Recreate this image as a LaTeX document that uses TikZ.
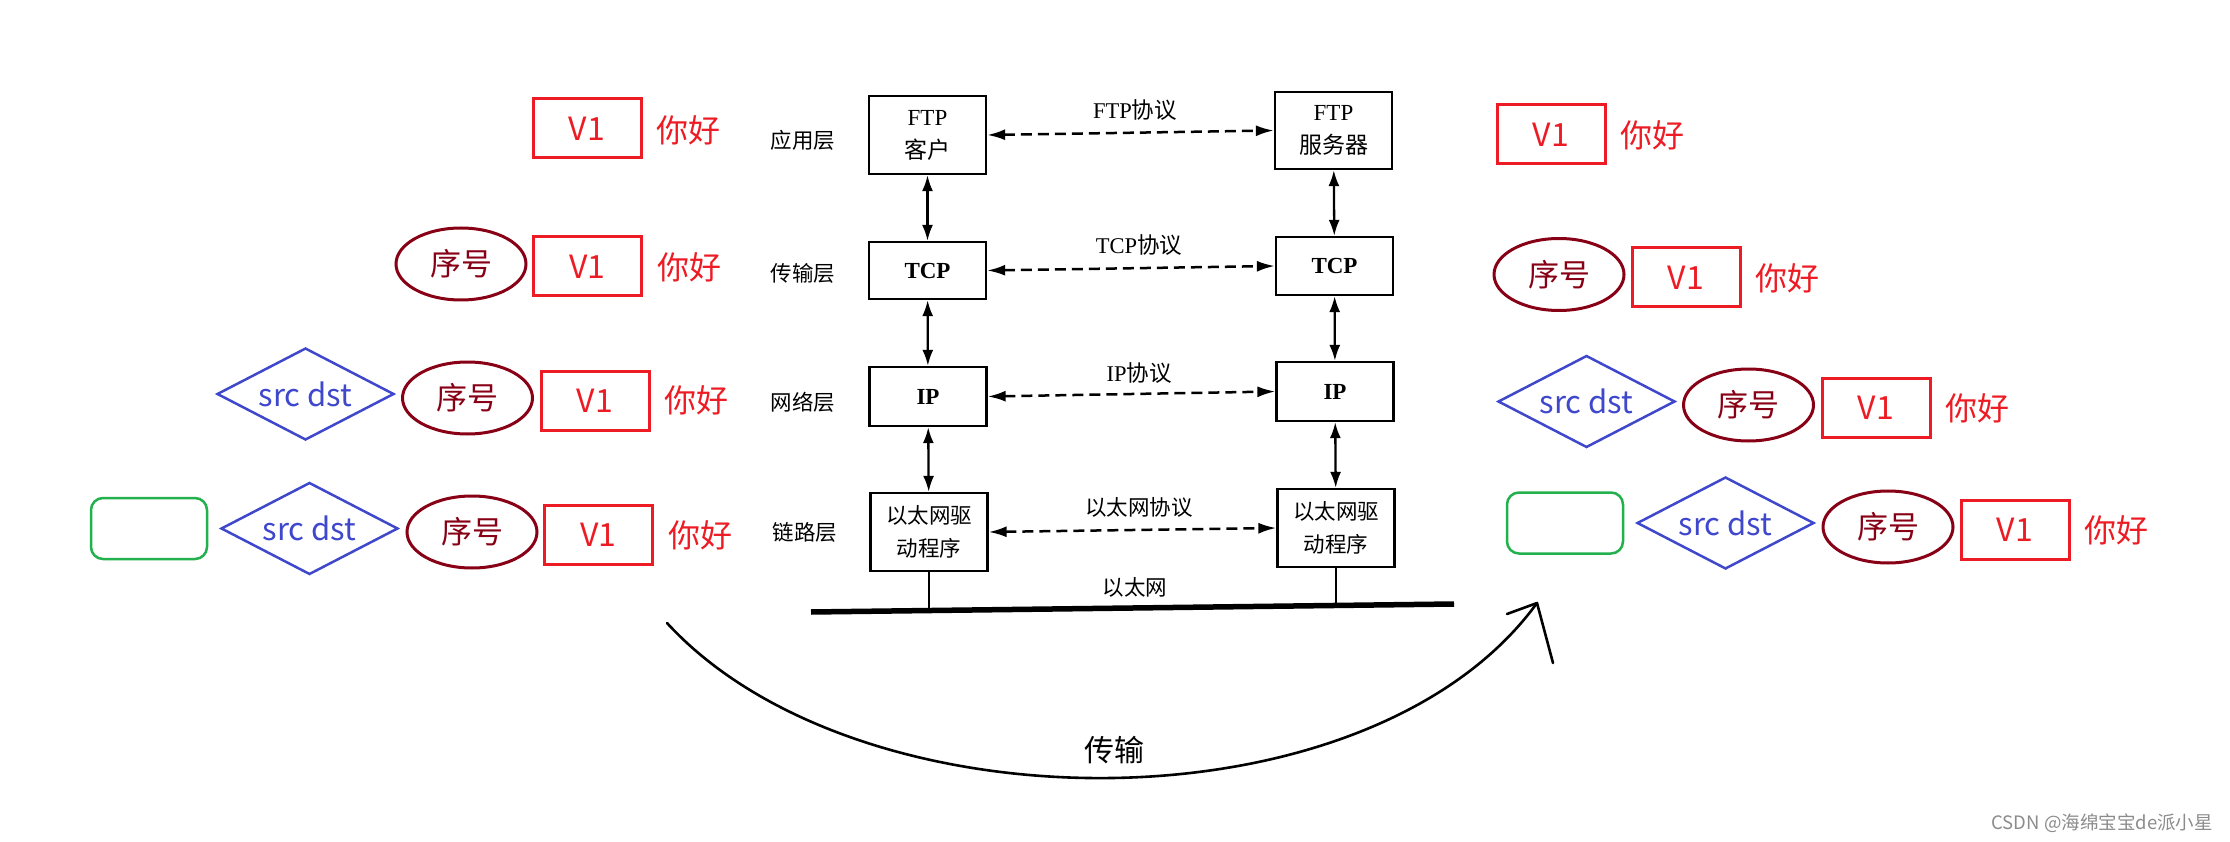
\documentclass[tikz,border=0pt]{standalone}
\usepackage{fontspec}
\setmainfont{Liberation Serif}
\newfontfamily\cjk{Noto Sans CJK SC}
\usetikzlibrary{shapes.geometric,arrows.meta}
\definecolor{pred}{HTML}{ED1C24}
\definecolor{pdark}{HTML}{880015}
\definecolor{pblue}{HTML}{3F48CC}
\definecolor{pgreen}{HTML}{22B14C}
\definecolor{wmgray}{HTML}{8C8C8C}
\tikzset{
 layerbox/.style={draw, line width=2.3pt, minimum width=117pt, inner sep=0pt, align=center, font=\fontsize{23}{33}\selectfont},
 layerlbl/.style={font=\cjk\fontsize{21.5}{24}\selectfont, inner sep=0pt},
 protolbl/.style={font=\fontsize{22.5}{24}\selectfont, inner sep=0pt},
 vlink/.style={line width=2.3pt, {Latex[length=16pt,width=11pt]}-{Latex[length=16pt,width=11pt]}},
 hlink/.style={line width=2.5pt, dash pattern=on 11pt off 6pt, {Latex[length=18pt,width=11pt]}-{Latex[length=18pt,width=11pt]}},
 v1box/.style={draw=pred, line width=3pt, minimum width=108pt, minimum height=59pt, inner sep=0pt, text=pred, font=\cjk\fontsize{32}{36}\selectfont},
 hello/.style={text=pred, font=\cjk\fontsize{32}{36}\selectfont, inner sep=0pt},
 seqell/.style={ellipse, draw=pdark, line width=3pt, minimum width=130pt, minimum height=72pt, inner sep=0pt, text=pdark, font=\cjk\fontsize{31}{36}\selectfont},
 addrdia/.style={diamond, aspect=2, draw=pblue, line width=2.5pt, minimum width=177pt, minimum height=92pt, inner sep=0pt, text=pblue, font=\cjk\fontsize{31}{36}\selectfont},
 framebox/.style={draw=pgreen, line width=2.5pt, rounded corners=12pt, minimum width=116pt, minimum height=61pt, inner sep=0pt},
 hand/.style={line width=2.6pt, line cap=round, line join=round},
}
\begin{document}
\begin{tikzpicture}[x=1pt,y=-1pt]
\fill[white] (0,0) rectangle (2230,842);
\useasboundingbox (0,0) rectangle (2230,842);

% ---------- layer labels ----------
\node[layerlbl] (l1) at (803,140) {应用层};
\node[layerlbl] (l2) at (803,273) {传输层};
\node[layerlbl] (l3) at (803,402) {网络层};
\node[layerlbl] (l4) at (805,532) {链路层};

% ---------- protocol stack boxes ----------
\node[layerbox, minimum height=78pt] (ftpc) at (927.5,135) {FTP\\{\cjk 客户}};
\node[layerbox, minimum height=57pt] (tcpc) at (927.5,270.5) {\bfseries TCP};
\node[layerbox, minimum height=59pt] (ipc) at (928,396.5) {\bfseries IP};
\node[layerbox, minimum height=78pt, font=\cjk\fontsize{21.5}{33}\selectfont] (ethc) at (929,532) {以太网驱\\动程序};

\node[layerbox, minimum height=77pt] (ftps) at (1333.5,130.5) {FTP\\{\cjk 服务器}};
\node[layerbox, minimum height=58pt] (tcps) at (1334.5,266) {\bfseries TCP};
\node[layerbox, minimum height=59pt] (ips) at (1335,391.5) {\bfseries IP};
\node[layerbox, minimum height=78pt, font=\cjk\fontsize{21.5}{33}\selectfont] (eths) at (1336,528) {以太网驱\\动程序};

% vertical links
\draw[vlink] (ftpc) -- (tcpc);
\draw[vlink] (tcpc) -- (ipc);
\draw[vlink] (ipc) -- (ethc);
\draw[vlink] (ftps) -- (tcps);
\draw[vlink] (tcps) -- (ips);
\draw[vlink] (ips) -- (eths);

% peer protocols
\draw[hlink] (ftpc.east) -- (ftps.west);
\draw[hlink] (tcpc.east) -- (tcps.west);
\draw[hlink] (ipc.east) -- (ips.west);
\draw[hlink] (ethc.east) -- (eths.west);

\node[protolbl] (p1) at (1135,110) {FTP{\cjk 协议}};
\node[protolbl] (p2) at (1139,245) {TCP{\cjk 协议}};
\node[protolbl] (p3) at (1139,373) {IP{\cjk 协议}};
\node[protolbl, font=\cjk\fontsize{21.5}{24}\selectfont] (p4) at (1139,507) {以太网协议};

% ethernet bus
\coordinate (busA) at (811,612);
\coordinate (busB) at (1454,604);
\coordinate (tapL) at (929,610.5);
\coordinate (tapR) at (1336,605.4);
\draw[line width=5.5pt] (busA) -- (busB);
\draw[line width=1.6pt] (ethc.south) -- (tapL);
\draw[line width=1.6pt] (eths.south) -- (tapR);
\node[layerlbl] (bus) at (1135,587) {以太网};

% ---------- left packets ----------
\node[v1box] (a1v) at (587,128.5) {V1};
\node[hello] (a1h) at (688,130) {你好};

\node[seqell] (a2s) at (461,264) {序号};
\node[v1box] (a2v) at (587.5,266.5) {V1};
\node[hello] (a2h) at (689,267) {你好};

\node[addrdia] (a3d) at (305.5,394) {src dst};
\node[seqell] (a3s) at (467.5,398) {序号};
\node[v1box] (a3v) at (595,400.5) {V1};
\node[hello] (a3h) at (696,400) {你好};

\node[framebox] (a4f) at (149,528.5) {};
\node[addrdia] (a4d) at (309.5,528.5) {src dst};
\node[seqell] (a4s) at (472,532) {序号};
\node[v1box] (a4v) at (598.5,534.5) {V1};
\node[hello] (a4h) at (700,535) {你好};

% ---------- right packets ----------
\node[v1box] (b1v) at (1551,134.5) {V1};
\node[hello] (b1h) at (1652,135) {你好};

\node[seqell] (b2s) at (1559,274.5) {序号};
\node[v1box] (b2v) at (1686,277.5) {V1};
\node[hello] (b2h) at (1787,278) {你好};

\node[addrdia] (b3d) at (1586.5,401.5) {src dst};
\node[seqell] (b3s) at (1748.5,405) {序号};
\node[v1box] (b3v) at (1876,407.5) {V1};
\node[hello] (b3h) at (1977,408) {你好};

\node[framebox] (b4f) at (1565,523) {};
\node[addrdia] (b4d) at (1725.5,523) {src dst};
\node[seqell] (b4s) at (1888,527) {序号};
\node[v1box] (b4v) at (2015,529.5) {V1};
\node[hello] (b4h) at (2116,530) {你好};

% ---------- transmission arc ----------
\coordinate (cs) at (667,623);
\coordinate (ce) at (1537,603);
\coordinate (ah1) at (1507,614);
\coordinate (ah2) at (1553,663);
\draw[hand] (cs) .. controls (860,833) and (1370,833) .. (ce);
\draw[hand] (ah1) -- (ce) -- (ah2);
\node[font=\cjk\fontsize{30}{34}\selectfont, inner sep=0pt] (tx) at (1114,750) {传输};

% ---------- watermark ----------
\node[anchor=east, text=wmgray, font=\cjk\fontsize{18.5}{20}\selectfont, inner sep=0pt] (wm) at (2213,823) {CSDN @海绵宝宝de派小星};
\end{tikzpicture}
\end{document}
